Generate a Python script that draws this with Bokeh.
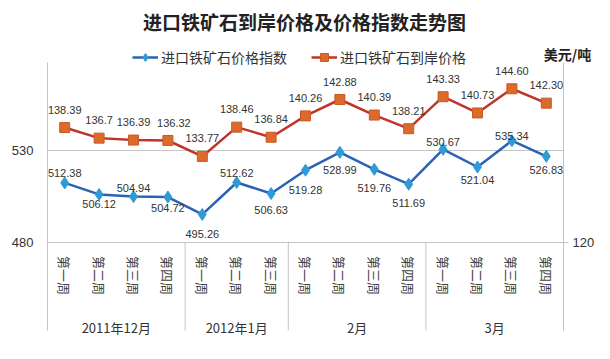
import math
from bokeh.plotting import figure
from bokeh.models import (Range1d, LinearAxis, FixedTicker, ColumnDataSource,
                          Label, LabelSet, Legend, LegendItem)
from bokeh.core.properties import value
from bokeh.embed import file_html
from bokeh.resources import INLINE

# ---------------- data ----------------
title_text = "进口铁矿石到岸价格及价格指数走势图"
unit_text = "美元/吨"
months = ["2011年12月", "2012年1月", "2月", "3月"]
weeks_per_month = [4, 3, 4, 4]
week_names = ["第一周", "第二周", "第三周", "第四周"]
index_name = "进口铁矿石价格指数"
price_name = "进口铁矿石到岸价格"
index_values = [512.38, 506.12, 504.94, 504.72, 495.26, 512.62, 506.63, 519.28,
                528.99, 519.76, 511.69, 530.67, 521.04, 535.34, 526.83]
price_values = [138.39, 136.7, 136.39, 136.32, 133.77, 138.46, 136.84, 140.26,
                142.88, 140.39, 138.21, 143.33, 140.73, 144.60, 142.30]
index_labels = ["512.38", "506.12", "504.94", "504.72", "495.26", "512.62", "506.63", "519.28",
                "528.99", "519.76", "511.69", "530.67", "521.04", "535.34", "526.83"]
price_labels = ["138.39", "136.7", "136.39", "136.32", "133.77", "138.46", "136.84", "140.26",
                "142.88", "140.39", "138.21", "143.33", "140.73", "144.60", "142.30"]
left_ticks = [480, 530]
right_ticks = [120]

# label placement (screen px, + is up)
index_label_dy = [10, -10, 9, -11, -20, 9, -16, -20, -18, -19, -19, 7, -13, 5, -14]
price_label_dy = [18] * 15
price_label_dx = [0, 0, 0, 6, 0, 0, 0, 0, 0, 0, 0, 0, 0, 0, 0]

# ---------------- layout (pixels) ----------------
W, H = 594, 343
PLOT_L, PLOT_R, PLOT_T, PLOT_B = 47, 563, 62, 330
AXIS_Y = 242          # pixel row of 480 / 120
LEFT_PX_PER_UNIT = 92 / 50
RIGHT_PX_PER_UNIT = 6.25

weeks = [w for n in weeks_per_month for w in week_names[:n]]
n = len(weeks)
xs = [i + 0.5 for i in range(n)]
bounds = []
acc = 0
for k in weeks_per_month:
    acc += k
    bounds.append(acc)
group_centers = [b - k / 2 for b, k in zip(bounds, weeks_per_month)]

xpx = (PLOT_R - PLOT_L) / n
x_range = Range1d(-PLOT_L / xpx, n + (W - PLOT_R) / xpx)
base_l = left_ticks[0]
base_r = right_ticks[0]
def lv(py):
    return base_l + (AXIS_Y - py) / LEFT_PX_PER_UNIT
def rv(py):
    return base_r + (AXIS_Y - py) / RIGHT_PX_PER_UNIT
left_range = Range1d(lv(H), lv(0))
right_range = Range1d(rv(H), rv(0))

BLUE_LINE = "#2a63b6"
BLUE_MARK = "#2f9bd6"
RED_LINE = "#c0342a"
RED_MARK = "#dc6a2a"
GRID = "#c4c4c4"
TXT = "#333333"
FONT = "Noto Sans CJK SC"
NUMFONT = "Liberation Sans"

p = figure(width=W, height=H, output_backend="svg", toolbar_location=None,
           x_range=x_range, y_range=left_range, min_border=0)
p.extra_y_ranges = {"price": right_range}
p.outline_line_color = None
p.background_fill_color = "white"
p.border_fill_color = "white"
p.xaxis.visible = False
p.xgrid.visible = False
p.ygrid.visible = False

yax = p.yaxis[0]
yax.fixed_location = 0
yax.bounds = (lv(PLOT_B), lv(PLOT_T))
yax.ticker = FixedTicker(ticks=left_ticks)
yax.major_tick_out = 0
yax.major_tick_in = 0
yax.minor_tick_line_color = None
yax.axis_line_color = GRID
yax.major_label_standoff = 14
yax.major_label_text_font_size = "13px"
yax.major_label_text_color = TXT
yax.major_label_text_font = NUMFONT

raxis = LinearAxis(y_range_name="price", ticker=FixedTicker(ticks=right_ticks),
                   fixed_location=n, bounds=(rv(PLOT_B), rv(PLOT_T)))
raxis.major_tick_out = 5
raxis.major_tick_in = 0
raxis.major_tick_line_color = GRID
raxis.minor_tick_line_color = None
raxis.axis_line_color = GRID
raxis.major_label_standoff = 4
raxis.major_label_text_font_size = "13px"
raxis.major_label_text_color = TXT
raxis.major_label_text_font = NUMFONT
p.add_layout(raxis, "right")

# horizontal grid lines
p.segment(x0=[0] * len(left_ticks), y0=left_ticks, x1=[n] * len(left_ticks), y1=left_ticks,
          line_color=GRID, line_width=1)
# category group separators
sep_x = bounds[:-1]
p.segment(x0=sep_x, y0=[base_l] * len(sep_x), x1=sep_x,
          y1=[lv(PLOT_B)] * len(sep_x), line_color=GRID, line_width=1)

# series
r1 = p.line(xs, index_values, line_color=BLUE_LINE, line_width=2.5)
r2 = p.scatter(xs, index_values, marker="diamond", size=12,
               fill_color=BLUE_MARK, line_color=BLUE_MARK)
r3 = p.line(xs, price_values, y_range_name="price", line_color=RED_LINE, line_width=2.5)
r4 = p.scatter(xs, price_values, y_range_name="price", marker="square", size=10,
               fill_color=RED_MARK, line_color="#c85a28")

# data labels
isrc = ColumnDataSource(dict(x=xs, y=index_values, t=index_labels, dy=index_label_dy))
p.add_layout(LabelSet(x="x", y="y", text="t", y_offset="dy", source=isrc,
                      text_align="center", text_baseline="middle",
                      text_font_size="11px", text_color=TXT, text_font=value(NUMFONT)))
psrc = ColumnDataSource(dict(x=xs, y=price_values, t=price_labels, dy=price_label_dy, dx=price_label_dx))
p.add_layout(LabelSet(x="x", y="y", text="t", y_offset="dy", x_offset="dx", source=psrc,
                      y_range_name="price", text_align="center", text_baseline="middle",
                      text_font_size="11px", text_color=TXT, text_font=value(NUMFONT)))

# category labels
wsrc = ColumnDataSource(dict(x=xs, y=[base_l] * n, t=weeks))
p.add_layout(LabelSet(x="x", y="y", text="t", source=wsrc, angle=-math.pi / 2,
                      y_offset=-33, text_align="center", text_baseline="middle",
                      text_font_size="13px", text_color="#444444", text_font=value(FONT)))
gsrc = ColumnDataSource(dict(x=group_centers, y=[base_l] * len(months), t=months))
p.add_layout(LabelSet(x="x", y="y", text="t", source=gsrc, y_offset=-85,
                      text_align="center", text_baseline="middle",
                      text_font_size="13px", text_color=TXT, text_font=value(FONT)))

# legend
legend = Legend(items=[LegendItem(label=index_name, renderers=[r1, r2]),
                       LegendItem(label=price_name, renderers=[r3, r4])],
                orientation="horizontal", location=(132, H - 67),
                border_line_color=None, background_fill_alpha=0,
                padding=0, margin=0, spacing=24, glyph_width=26, glyph_height=20,
                label_standoff=3, label_height=20, label_text_font_size="14px",
                label_text_color=TXT, label_text_font=FONT)
p.add_layout(legend)

# title & unit
p.add_layout(Label(x=304, y=H - 21, x_units="screen", y_units="screen", text=title_text,
                   text_align="center", text_baseline="middle", text_font_size="19px",
                   text_font_style="bold", text_color="#222222", text_font=FONT))
p.add_layout(Label(x=567, y=H - 53, x_units="screen", y_units="screen", text=unit_text,
                   text_align="center", text_baseline="middle", text_font_size="14px",
                   text_font_style="bold", text_color="#222222", text_font=FONT))

open("out.html", "w").write(file_html(p, INLINE))
